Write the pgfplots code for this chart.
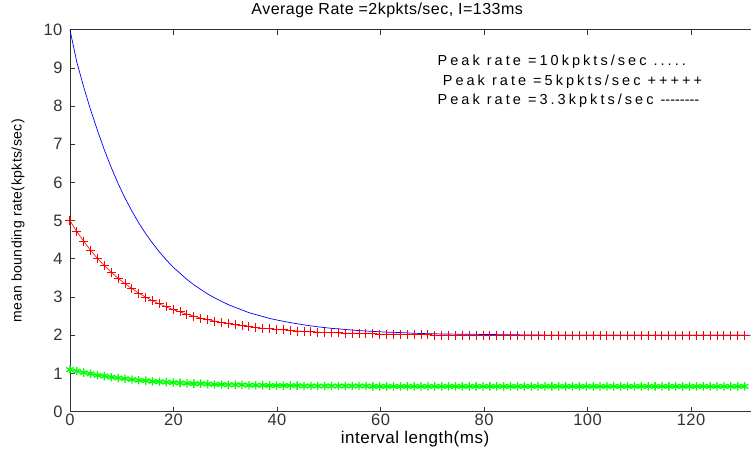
\documentclass[border=0pt]{standalone}
\usepackage{fontspec}
\setmainfont{Liberation Sans}[LetterSpace=3]
\newfontfamily\legfont{Liberation Sans}[LetterSpace=21]
\usepackage{pgfplots}
\usepackage{pgfplotstable}
\pgfplotsset{compat=1.18}
\definecolor{mblue}{RGB}{0,0,255}
\definecolor{mred}{RGB}{255,0,0}
\definecolor{mgreen}{RGB}{0,255,0}

% peak rate 10 kpkts/sec
\pgfplotstableread{
x y
0 10.00
1.33 9.15
2.66 8.50
3.99 7.90
5.32 7.36
6.65 6.85
7.98 6.39
9.31 5.97
10.64 5.59
11.97 5.25
13.3 4.94
14.63 4.66
15.96 4.41
17.29 4.18
18.62 3.97
19.95 3.78
21.28 3.62
22.61 3.46
23.94 3.32
25.27 3.20
26.6 3.08
27.93 2.98
29.26 2.89
30.59 2.80
31.92 2.73
33.25 2.66
34.58 2.59
35.91 2.54
37.24 2.49
38.57 2.44
39.9 2.40
42.56 2.33
45.22 2.27
47.88 2.22
50.54 2.18
53.2 2.15
55.86 2.12
58.52 2.10
61.18 2.08
63.84 2.07
66.5 2.05
69.16 2.04
73.15 2.03
79.8 2.02
86.45 2.01
93.1 2.00
131.5 2.00
}\tenk

% peak rate 5 and 3.3 kpkts/sec
\pgfplotstableread{
x five three
0 5.00 1.10
1.33 4.71 1.06
2.66 4.46 1.02
3.99 4.22 0.99
5.32 4.01 0.95
6.65 3.82 0.93
7.98 3.65 0.90
9.31 3.49 0.88
10.64 3.35 0.86
11.97 3.22 0.84
13.3 3.10 0.82
14.63 3.00 0.81
15.96 2.90 0.79
17.29 2.82 0.78
18.62 2.74 0.77
19.95 2.67 0.76
21.28 2.61 0.75
22.61 2.55 0.74
23.94 2.50 0.73
25.27 2.45 0.73
26.6 2.41 0.72
27.93 2.37 0.71
29.26 2.33 0.71
30.59 2.30 0.70
31.92 2.27 0.70
33.25 2.25 0.70
34.58 2.22 0.69
35.91 2.20 0.69
37.24 2.18 0.69
38.57 2.17 0.68
39.9 2.15 0.68
41.23 2.14 0.68
42.56 2.12 0.68
43.89 2.11 0.68
45.22 2.10 0.67
46.55 2.09 0.67
47.88 2.08 0.67
49.21 2.07 0.67
50.54 2.07 0.67
51.87 2.06 0.67
53.2 2.05 0.67
54.53 2.05 0.67
55.86 2.05 0.67
57.19 2.04 0.67
58.52 2.04 0.66
59.85 2.03 0.66
61.18 2.03 0.66
62.51 2.03 0.66
63.84 2.02 0.66
65.17 2.02 0.66
66.5 2.02 0.66
67.83 2.02 0.66
69.16 2.01 0.66
70.49 2.00 0.66
71.82 2.00 0.66
73.15 2.00 0.66
74.48 2.00 0.66
75.81 2.00 0.66
77.14 2.00 0.66
78.47 2.00 0.66
79.8 2.00 0.66
81.13 2.00 0.66
82.46 2.00 0.66
83.79 2.00 0.66
85.12 2.00 0.66
86.45 2.00 0.66
87.78 2.00 0.66
89.11 2.00 0.66
90.44 2.00 0.66
91.77 2.00 0.66
93.1 2.00 0.66
94.43 2.00 0.66
95.76 2.00 0.66
97.09 2.00 0.66
98.42 2.00 0.66
99.75 2.00 0.66
101.08 2.00 0.66
102.41 2.00 0.66
103.74 2.00 0.66
105.07 2.00 0.66
106.4 2.00 0.66
107.73 2.00 0.66
109.06 2.00 0.66
110.39 2.00 0.66
111.72 2.00 0.66
113.05 2.00 0.66
114.38 2.00 0.66
115.71 2.00 0.66
117.04 2.00 0.66
118.37 2.00 0.66
119.7 2.00 0.66
121.03 2.00 0.66
122.36 2.00 0.66
123.69 2.00 0.66
125.02 2.00 0.66
126.35 2.00 0.66
127.68 2.00 0.66
129.01 2.00 0.66
130.34 2.00 0.66
}\lowpk

\begin{document}
\begin{tikzpicture}
\begin{axis}[
  name=ax,
  width=681pt, height=382pt, scale only axis,
  xmin=0, xmax=131.5, ymin=0, ymax=10,
  enlargelimits=false,
  clip=false,
  axis x line=box, axis y line=left,
  every non boxed y axis/.style={},
  y axis line style={-},
  axis line style={black!80, line width=0.8pt},
  xtick={0,20,...,120}, ytick={0,1,...,10},
  tick align=inside,
  major tick length=5pt,
  tick style={black!80, line width=0.8pt},
  /pgf/number format/assume math mode=true,
  tick label style={font=\fontsize{16.5}{16.5}\selectfont, color=black!80},
  yticklabel style={xshift=-4pt},
  xticklabel style={yshift=1pt},
  title={Average Rate =2kpkts/sec, I=133ms},
  title style={font=\fontsize{16}{16}\selectfont, at={(0.466,1)}, anchor=south, yshift=2pt},
  xlabel={interval length(ms)},
  ylabel={mean bounding rate(kpkts/sec)},
  xlabel style={font=\fontsize{17}{17}\selectfont, at={(axis description cs:0.507,-0.073)}, anchor=center},
  ylabel style={font=\fontsize{14}{14}\selectfont, at={(axis description cs:-0.0764,0.5)}, anchor=center},
]
\addplot[color=mred, line width=0.6pt, mark=+, mark size=4.5pt, mark options={line width=1pt}] table[x=x, y=five] {\lowpk};
\addplot[color=mgreen, line width=0.8pt, mark=asterisk, mark size=4.2pt, mark options={line width=1.3pt}] table[x=x, y=three] {\lowpk};
\addplot[color=mblue, line width=0.7pt] table[x=x, y=y] {\tenk};
\node[anchor=west, inner sep=0pt, font=\legfont\fontsize{14.5}{14.5}\selectfont] at (axis cs:71.0,9.16) {Peak rate =10kpkts/sec .....};
\node[anchor=west, inner sep=0pt, font=\legfont\fontsize{14.5}{14.5}\selectfont] at (axis cs:72.0,8.64) {Peak rate =5kpkts/sec +++++};
\node[anchor=west, inner sep=0pt, font=\legfont\fontsize{14.5}{14.5}\selectfont] at (axis cs:71.0,8.14) {Peak rate =3.3kpkts/sec -\kern0pt-\kern0pt-\kern0pt-\kern0pt-\kern0pt-\kern0pt-\kern0pt-};
\end{axis}
% keep the blank margin left of the y label, as in the reference
\path ([xshift=-70pt]ax.south west) rectangle (ax.south west);
\end{tikzpicture}
\end{document}
